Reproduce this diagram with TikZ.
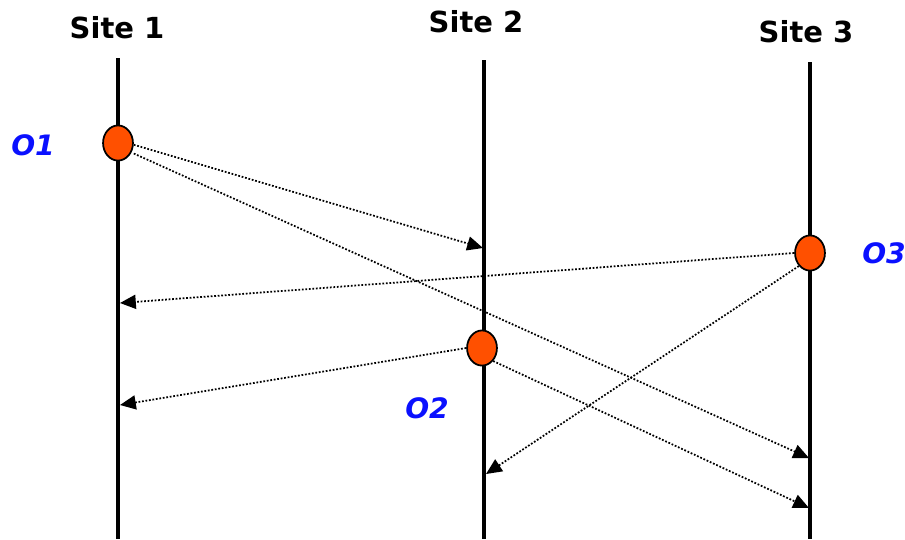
\documentclass[tikz,border=0pt]{standalone}
\usepackage{fontspec}
\setmainfont{DejaVu Sans}
\usetikzlibrary{arrows.meta,shapes.geometric}
\definecolor{evfill}{HTML}{FF5000}
\definecolor{evblue}{HTML}{0A10FF}

\begin{document}
\begin{tikzpicture}[
  x=0.02cm,y=-0.02cm,
  >={Triangle[length=9pt,width=8pt]},
  timeline/.style={line width=2.3pt,black},
  site/.style={font=\fontsize{16.5}{18}\selectfont\bfseries},
  event/.style={ellipse,draw=black,line width=1pt,fill=evfill,minimum width=17pt,minimum height=20pt,inner sep=0pt},
  evlab/.style={font=\fontsize{16}{18}\selectfont\bfseries\itshape,text=evblue},
  msg/.style={->,densely dotted,line width=1pt},
]
\useasboundingbox (0,0) rectangle (905,539);

% ---------- sites and their time lines ----------
\node[site] (s1) at (117,28) {Site 1};
\node[site] (s2) at (476,22) {Site 2};
\node[site] (s3) at (806,32) {Site 3};
\coordinate (s1top) at (118,58);  \coordinate (s1bot) at (118,539);
\coordinate (s2top) at (484,60);  \coordinate (s2bot) at (484,539);
\coordinate (s3top) at (810,62);  \coordinate (s3bot) at (810,539);
\draw[timeline] (s1top) -- (s1bot);
\draw[timeline] (s2top) -- (s2bot);
\draw[timeline] (s3top) -- (s3bot);

% ---------- receive points ----------
\coordinate (r21) at (483,248);
\coordinate (r13) at (120,303);
\coordinate (r12) at (120,405);
\coordinate (r23) at (486,474);
\coordinate (r31) at (809,458);
\coordinate (r32) at (809,508);

% ---------- events ----------
\node[event] (o1) at (118,143) {};
\node[event] (o2) at (482,348) {};
\node[event] (o3) at (810,253) {};
\node[evlab] (o1lab) at (33,145) {O1};
\node[evlab] (o2lab) at (427,408) {O2};
\node[evlab] (o3lab) at (884,253) {O3};

% ---------- messages ----------
\draw[msg] ([yshift=-1pt]o1.east) -- (r21);
\draw[msg] ([yshift=-6pt]o1.east) -- (r31);
\draw[msg] (o3.west) -- (r13);
\draw[msg] (o3.south west) -- (r23);
\draw[msg] (o2.west) -- (r12);
\draw[msg] (o2.south east) -- (r32);

\end{tikzpicture}
\end{document}
